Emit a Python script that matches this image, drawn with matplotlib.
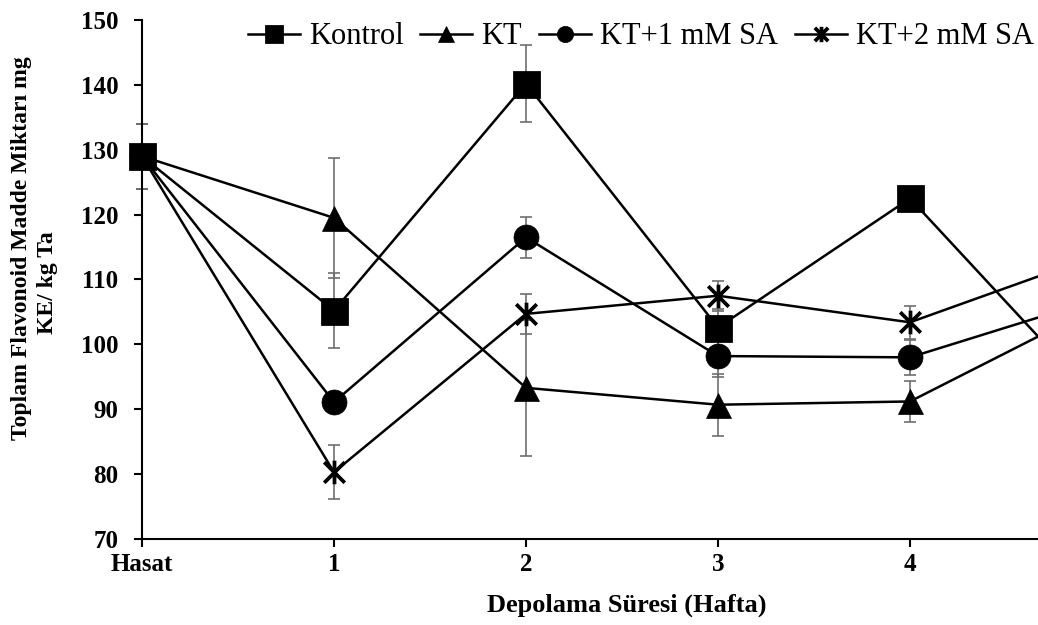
import numpy as np
import matplotlib.pyplot as plt
from matplotlib.path import Path

plt.rcParams['font.family'] = ['Liberation Serif', 'DejaVu Serif']

weeks = ['Hasat', '1', '2', '3', '4', '5']
labels = ['Kontrol', 'KT', 'KT+1 mM SA', 'KT+2 mM SA']

kontrol = [129.0, 105.2, 140.2, 102.6, 122.5, 90.6]
kontrol_err = [5.0, 5.8, 5.9, 2.8, 0.5, 0.0]
kt = [129.0, 119.5, 93.3, 90.7, 91.2, 106.2]
kt_err = [5.0, 9.3, 10.5, 4.8, 3.2, 0.0]
kt_sa1 = [129.0, 91.1, 116.5, 98.2, 98.0, 107.2]
kt_sa1_err = [5.0, 0.5, 3.2, 3.3, 2.7, 0.0]
kt_sa2 = [129.0, 80.3, 104.7, 107.5, 103.4, 114.0]
kt_sa2_err = [5.0, 4.2, 3.1, 2.3, 2.5, 0.0]

# asterisk marker like excel's "star": an x with a vertical bar
star = Path([(-1, -1), (1, 1), (-1, 1), (1, -1), (0, -1.15), (0, 1.15)],
            [Path.MOVETO, Path.LINETO, Path.MOVETO, Path.LINETO, Path.MOVETO, Path.LINETO])

x = np.arange(len(weeks))

fig = plt.figure(figsize=(10.38, 6.25), dpi=100)
ax = fig.add_axes([142 / 1038, 1 - 539 / 625, (1038 - 142) / 1038, (539 - 20) / 625])

series = [
    (kt_sa2, kt_sa2_err, star, 'none', 2.7, 17),
    (kt_sa1, kt_sa1_err, 'o', 'black', 0.5, 18),
    (kt, kt_err, '^', 'black', 0.5, 18),
    (kontrol, kontrol_err, 's', 'black', 2.0, 18),
]
names = [labels[3], labels[2], labels[1], labels[0]]

handles = {}
for (vals, err, mk, fc, mew, ms), name in zip(series, names):
    ax.errorbar(x, vals, yerr=err, fmt='none', ecolor='#6e6e6e', elinewidth=1.2,
                capsize=4.5, capthick=1.2, zorder=2, clip_on=False)
    ln, = ax.plot(x, vals, color='black', lw=1.8, marker=mk, ms=ms,
                  mfc=fc, mec='black', mew=mew, zorder=3, clip_on=False)
    handles[name] = ln

ax.set_xlim(0, (1038 - 142) / 192)
ax.set_ylim(70, 150)
ax.set_yticks(range(70, 151, 10))
ax.set_xticks(x[:5])
ax.set_xticklabels(weeks[:5])

for s in ['top', 'right']:
    ax.spines[s].set_visible(False)
for s in ['left', 'bottom']:
    ax.spines[s].set_linewidth(1.5)

ax.tick_params(axis='both', direction='out', length=6, width=1.5, labelsize=18)
ax.tick_params(axis='y', pad=11)
ax.tick_params(axis='x', pad=4)
for t in ax.get_xticklabels() + ax.get_yticklabels():
    t.set_fontweight('bold')

fig.text(22 / 1038, 1 - 248 / 625, 'Toplam Flavonoid Madde Miktarı mg',
         rotation=90, ha='center', va='center', fontsize=17, fontweight='bold')
fig.text(48 / 1038, 1 - 283 / 625, 'KE/ kg Ta',
         rotation=90, ha='center', va='center', fontsize=17, fontweight='bold')
fig.text(627 / 1038, 1 - 605 / 625, 'Depolama Süresi (Hafta)', ha='center', va='center',
         fontsize=19, fontweight='bold')

fig.legend([handles[l] for l in labels], labels, loc='center right',
           bbox_to_anchor=(1034 / 1038, 1 - 37 / 625), ncol=4, frameon=False,
           fontsize=22, markerscale=0.65, handlelength=1.7, handletextpad=0.3,
           columnspacing=0.55, borderaxespad=0, borderpad=0)

fig.savefig('out.png', dpi=100)
